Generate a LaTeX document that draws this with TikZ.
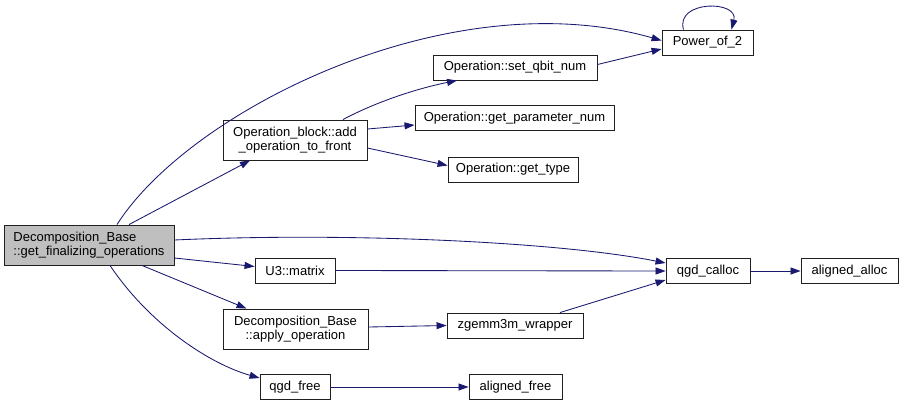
\documentclass[tikz,border=0pt]{standalone}
\usepackage{fontspec}
\setmainfont{Liberation Sans}
\usetikzlibrary{arrows.meta,calc}
\definecolor{edgeblue}{HTML}{191970}
\definecolor{rootgray}{HTML}{BFBFBF}
\definecolor{boxline}{HTML}{202020}
\begin{document}
\begin{tikzpicture}[x=1pt,y=-1pt,
  box/.style={draw=boxline, line width=0.9pt, fill=white, inner sep=0pt,
    font=\fontsize{13}{14.5}\selectfont, align=center, minimum height=25pt},
  tall/.style={minimum height=40pt},
  edge/.style={draw=edgeblue, line width=0.85pt, -{Triangle[length=10pt,width=7pt]}}]
\useasboundingbox (0,0) rectangle (904,407);
\fill[white] (0,0) rectangle (904,407);

\node[box, tall, fill=rootgray, align=left, minimum width=170pt] (main) at (89,245)
  {Decomposition\_Base\\::get\_finalizing\_operations};
\node[box, tall, minimum width=144pt] (addop) at (295,140)
  {Operation\_block::add\\\_operation\_to\_front};
\node[box, minimum width=164pt] (setq) at (515,67.5) {Operation::set\_qbit\_num};
\node[box, minimum width=199pt] (getpn) at (514.5,118) {Operation::get\_parameter\_num};
\node[box, minimum width=130pt] (gett) at (513,169.5) {Operation::get\_type};
\node[box, minimum width=91pt] (pow) at (707.5,42.5) {Power\_of\_2};
\node[box, minimum width=80pt] (u3) at (295,270.5) {U3::matrix};
\node[box, minimum width=84pt] (calloc) at (708,271) {qgd\_calloc};
\node[box, minimum width=97pt] (aalloc) at (849.5,271) {aligned\_alloc};
\node[box, tall, minimum width=145pt] (apply) at (295.5,329)
  {Decomposition\_Base\\::apply\_operation};
\node[box, minimum width=136pt] (zgemm) at (515,325.5) {zgemm3m\_wrapper};
\node[box, minimum width=70pt] (free) at (295,387) {qgd\_free};
\node[box, minimum width=93pt] (afree) at (515.5,387) {aligned\_free};

% edges from root
\draw[edge] ($(main.north)+(28,0)$) .. controls (190,110) and (450,-20) .. ($(pow.west)+(0,-2)$);
\draw[edge] ($(main.north)+(40,0)$) -- ($(addop.south)+(-45,0)$);
\draw[edge] ($(main.east)+(0,-5)$) .. controls (350,232) and (560,242) .. ($(calloc.west)+(0,-8)$);
\draw[edge] ($(main.east)+(0,13)$) -- ($(u3.west)+(0,-4)$);
\draw[edge] ($(main.south)+(53,0)$) -- ($(apply.north)+(-49,0)$);
\draw[edge] ($(main.south)+(21,0)$) .. controls (150,325) and (210,364) .. ($(free.west)+(0,-9)$);

% from add_operation_to_front
\draw[edge] ($(addop.north)+(48,0)$) .. controls (370,105) and (410,90) .. ($(setq.south)+(-58,0)$);
\draw[edge] ($(addop.east)+(0,-11)$) -- ($(getpn.west)+(0,7)$);
\draw[edge] ($(addop.east)+(0,8)$) -- ($(gett.west)+(0,-4)$);

% others
\draw[edge] ($(setq.east)+(0,-3)$) -- ($(pow.west)+(0,6.5)$);
\draw[edge] ($(pow.north)+(-24,0)$) .. controls (675,0) and (739,0) .. ($(pow.north)+(24,0)$);
\draw[edge] (u3.east) -- (calloc.west);
\draw[edge] ($(apply.east)+(0,-2)$) -- (zgemm.west);
\draw[edge] ($(zgemm.north)+(45,0)$) -- ($(calloc.west)+(0,9)$);
\draw[edge] (calloc.east) -- (aalloc.west);
\draw[edge] (free.east) -- (afree.west);
\end{tikzpicture}
\end{document}
